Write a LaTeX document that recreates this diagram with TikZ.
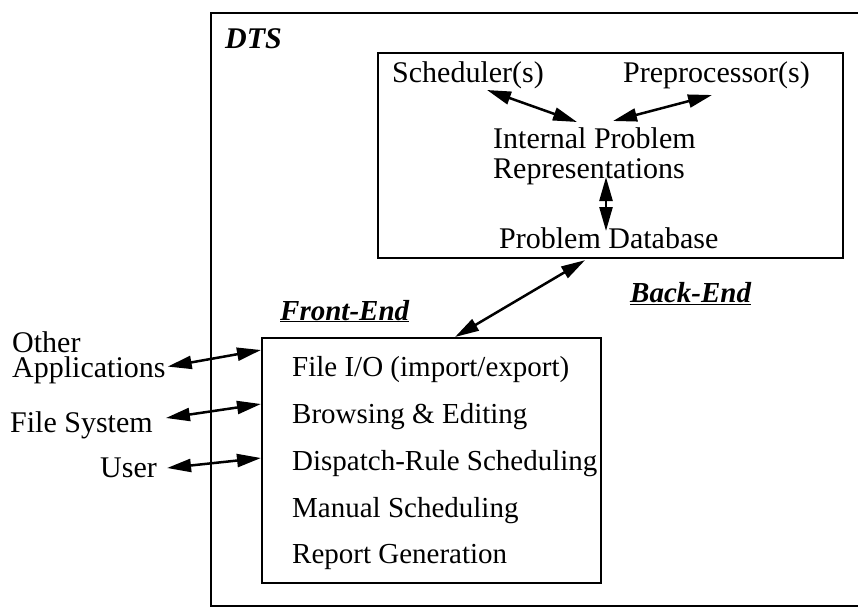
\documentclass[tikz,border=0pt]{standalone}
\usepackage{fontspec}
\setmainfont{Liberation Serif}
\usetikzlibrary{arrows.meta}
\begin{document}
\begin{tikzpicture}[x=1pt,y=-1pt,
  txt/.style={font=\fontsize{30}{30}\selectfont, inner sep=0pt, anchor=base west},
  fetxt/.style={font=\fontsize{29}{29}\selectfont, inner sep=0pt, anchor=base west},
  lbl/.style={font=\fontsize{29}{29}\selectfont\bfseries\itshape, inner sep=0pt, anchor=base west},
  box/.style={draw, line width=2.2pt, inner sep=0pt},
  dbl/.style={{Triangle[length=24pt,width=13pt]}-{Triangle[length=24pt,width=13pt]}, line width=2.5pt}]
\clip (0,0) rectangle (858,608);
\fill[white] (0,0) rectangle (858,608);
% outer DTS box
\node[box, minimum width=680pt, minimum height=593pt, anchor=north west] (dtsbox) at (210,12) {};
\node[lbl, font=\fontsize{30}{30}\selectfont\bfseries\itshape] (dts) at (225,48) {DTS};
% back-end box
\node[box, minimum width=465pt, minimum height=205pt, anchor=north west] (be) at (377,52) {};
\node[txt] (sched) at (392,82) {Scheduler(s)};
\node[txt] (prep) at (623,82) {Preprocessor(s)};
\node[txt] (ipr) at (493,148) {Internal Problem};
\node[txt] (ipr2) at (493,178) {Representations};
\node[txt] (pdb) at (499,248) {Problem Database};
\node[lbl] (belbl) at (630,302) {\underline{Back-End}};
% front-end box
\node[box, minimum width=339pt, minimum height=245pt, anchor=north west] (fe) at (261,337) {};
\node[lbl] (felbl) at (280,320) {\underline{Front-End}};
\node[fetxt] (f1) at (292,376) {File I/O (import/export)};
\node[fetxt] (f2) at (292,423) {Browsing \& Editing};
\node[fetxt] (f3) at (292,470) {Dispatch-Rule Scheduling};
\node[fetxt] (f4) at (292,517) {Manual Scheduling};
\node[fetxt] (f5) at (292,563) {Report Generation};
% external
\node[font=\fontsize{30}{25}\selectfont, inner sep=0pt, align=left, anchor=north west] (oa) at (12,331) {Other\\Applications};
\node[txt] (fs) at (10,432) {File System};
\node[txt] (usr) at (100,477) {User};
% connectors
\draw[dbl] ([shift={(95,8)}]sched.base west) -- ([shift={(84,-26)}]ipr.base west);
\draw[dbl] ([shift={(89,13)}]prep.base west) -- ([shift={(120,-27)}]ipr.base west);
\draw[dbl] ([shift={(113,-1)}]ipr2.base west) -- ([shift={(107,-17)}]pdb.base west);
\draw[dbl] ([shift={(208,1)}]be.south west) -- ([shift={(194,0)}]fe.north west);
\draw[dbl] ([shift={(2,-17)}]oa.south east) -- ([shift={(0,13)}]fe.north west);
\draw[dbl] ([shift={(13,-14)}]fs.base east) -- ([shift={(0,67)}]fe.north west);
\draw[dbl] ([shift={(10,-9)}]usr.base east) -- ([shift={(0,121)}]fe.north west);
\end{tikzpicture}
\end{document}
